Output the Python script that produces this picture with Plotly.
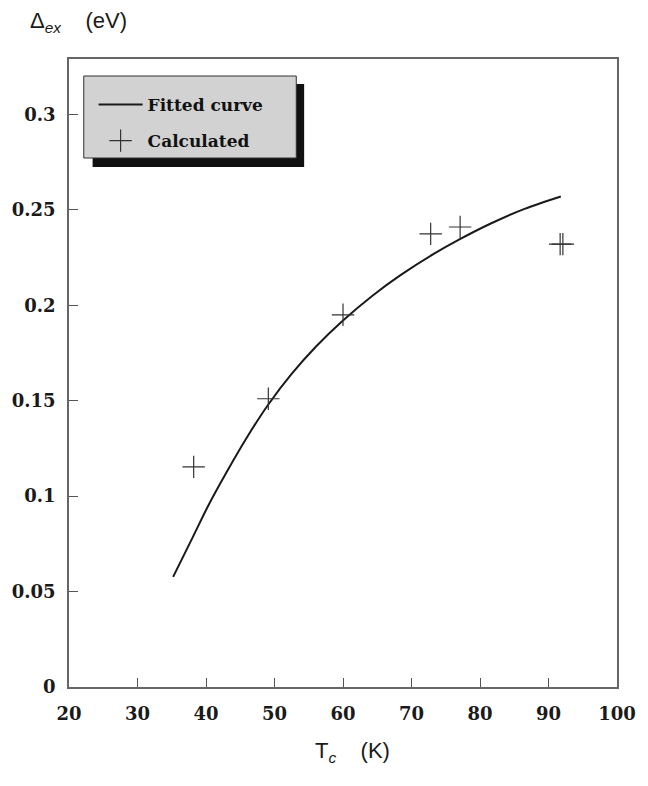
import plotly.graph_objects as go

# Fitted curve
fit_tc = [35.2, 38.0, 40.4, 43.0, 46.1, 49.1, 52.5, 56.1, 60.0, 64.3, 68.5, 73.3, 77.0, 81.5, 86.5, 91.8]
fit_gap = [0.0577, 0.0780, 0.0955, 0.1125, 0.1315, 0.1480, 0.1640, 0.1785, 0.1920, 0.2050,
           0.2160, 0.2270, 0.2345, 0.2427, 0.2505, 0.2570]

# Calculated points
calc_tc = [38.2, 49.1, 60.0, 72.8, 77.1, 91.7, 92.1]
calc_gap = [0.1153, 0.1510, 0.1950, 0.2374, 0.2410, 0.2320, 0.2320]

x_ticks = [20, 30, 40, 50, 60, 70, 80, 90, 100]
y_ticks = [0, 0.05, 0.1, 0.15, 0.2, 0.25, 0.3]
y_ticktext = ["0", "0.05", "0.1", "0.15", "0.2", "0.25", "0.3"]

W, H = 648, 786
L, R, T, B = 68, 23, 59, 99
pw, ph = W - L - R, H - T - B

def px2paper(x, y):
    return (x - L) / pw, (H - B - y) / ph

fig = go.Figure()
fig.add_trace(go.Scatter(
    x=fit_tc, y=fit_gap, mode="lines", name="Fitted curve",
    line=dict(color="#1a1a1a", width=2, shape="spline", smoothing=0.8),
    legendgroup="a",
))
fig.add_trace(go.Scatter(
    x=calc_tc, y=calc_gap, mode="markers", name="Calculated",
    marker=dict(symbol="cross-thin-open", size=16, color="#333333",
                line=dict(color="#333333", width=1.2)),
    legendgroup="b",
))

axis_font = dict(family="DejaVu Serif", size=18, color="#1a1a1a", weight="bold")
fig.update_xaxes(
    range=[20, 100], tickvals=x_ticks, ticks="inside", ticklen=9, tickwidth=1.2,
    tickcolor="#555", showline=True, linecolor="#666", linewidth=1.5, mirror=True,
    showgrid=False, zeroline=False, tickfont=axis_font, ticklabelstandoff=10,
)
fig.update_yaxes(
    range=[0, 0.329], tickvals=y_ticks, ticktext=y_ticktext, ticks="inside",
    ticklen=9, tickwidth=1.2, tickcolor="#555", showline=True, linecolor="#666",
    linewidth=1.5, mirror=True, showgrid=False, zeroline=False, tickfont=axis_font,
    ticklabelstandoff=8,
)

# legend box shadow and box
sx0, sy0 = px2paper(92, 167)
sx1, sy1 = px2paper(307, 84)
fig.add_shape(type="rect", xref="paper", yref="paper", x0=sx0, y0=sy0, x1=sx1, y1=sy1,
              fillcolor="#111111", line=dict(width=0), layer="above")
bx0, by0 = px2paper(83, 158)
bx1, by1 = px2paper(299, 76)
fig.add_shape(type="rect", xref="paper", yref="paper", x0=bx0, y0=by0, x1=bx1, y1=by1,
              fillcolor="#d2d2d2", line=dict(color="#333", width=1), layer="above")

lx, ly = px2paper(93, 87)
fig.update_layout(
    width=W, height=H,
    margin=dict(l=L, r=R, t=T, b=B),
    plot_bgcolor="white", paper_bgcolor="white",
    showlegend=True,
    legend=dict(
        x=lx, y=ly, xanchor="left", yanchor="top",
        bgcolor="rgba(0,0,0,0)", borderwidth=0,
        font=dict(family="DejaVu Serif", size=17, color="#111", weight="bold"),
        itemwidth=44, tracegroupgap=11, traceorder="grouped",
    ),
)

ax, ay = px2paper(26, 22)
fig.add_annotation(
    text="Δ<sub><i>ex</i></sub>\u00a0\u00a0\u00a0\u00a0(eV)", xref="paper", yref="paper",
    x=ax, y=ay, xanchor="left", yanchor="middle", showarrow=False,
    font=dict(family="Liberation Sans", size=22, color="#1a1a1a"),
)
tx, ty = px2paper(356, 752)
fig.add_annotation(
    text="T<sub><i>c</i></sub>\u00a0\u00a0\u00a0\u00a0(K)", xref="paper", yref="paper",
    x=tx, y=ty, xanchor="center", yanchor="middle", showarrow=False,
    font=dict(family="Liberation Sans", size=22, color="#1a1a1a"),
)

fig.write_html("out.html")
